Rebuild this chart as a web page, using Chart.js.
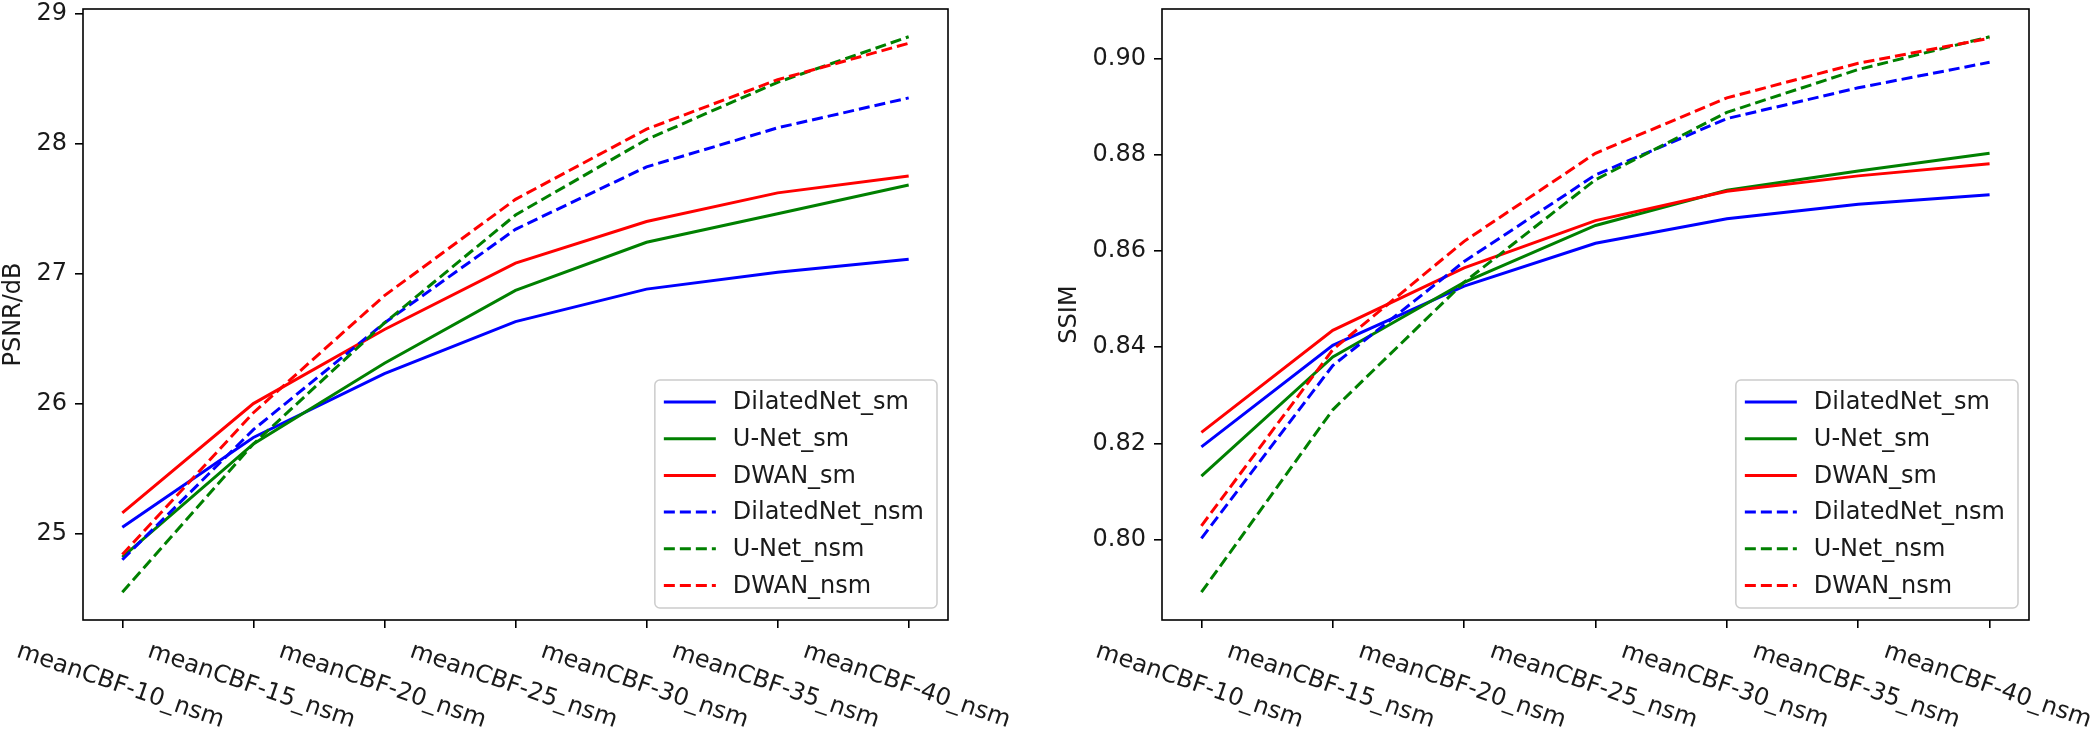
<!DOCTYPE html>
<html>
<head>
<meta charset="utf-8">
<script src="https://cdn.jsdelivr.net/npm/chart.js@4.4.0/dist/chart.umd.min.js"></script>
<style>
  html, body { margin: 0; padding: 0; background: #fff; }
  #wrap { width: 2100px; height: 732px; display: flex; }
  canvas { display: block; }
</style>
</head>
<body>
<div id="wrap">
  <canvas id="psnrChart" width="1050" height="732"></canvas>
  <canvas id="ssimChart" width="1050" height="732"></canvas>
</div>
<script>
// categories on the x axis
var categories = ['meanCBF-10_nsm', 'meanCBF-15_nsm', 'meanCBF-20_nsm', 'meanCBF-25_nsm',
                  'meanCBF-30_nsm', 'meanCBF-35_nsm', 'meanCBF-40_nsm'];

var seriesNames = ['DilatedNet_sm', 'U-Net_sm', 'DWAN_sm', 'DilatedNet_nsm', 'U-Net_nsm', 'DWAN_nsm'];
var seriesColors = ['#0000ff', '#008000', '#ff0000', '#0000ff', '#008000', '#ff0000'];
var seriesDashed = [false, false, false, true, true, true];

// PSNR (dB)
var psnrDilatedSm  = [25.05, 25.74, 26.23, 26.63, 26.88, 27.01, 27.11];
var psnrUnetSm     = [24.82, 25.69, 26.31, 26.87, 27.24, 27.46, 27.68];
var psnrDwanSm     = [25.16, 26.00, 26.57, 27.08, 27.40, 27.62, 27.75];
var psnrDilatedNsm = [24.80, 25.80, 26.62, 27.34, 27.82, 28.12, 28.35];
var psnrUnetNsm    = [24.55, 25.69, 26.62, 27.45, 28.03, 28.47, 28.82];
var psnrDwanNsm    = [24.84, 25.93, 26.83, 27.57, 28.11, 28.49, 28.77];

// SSIM
var ssimDilatedSm  = [0.8193, 0.8404, 0.8527, 0.8616, 0.8667, 0.8697, 0.8717];
var ssimUnetSm     = [0.8132, 0.8380, 0.8535, 0.8653, 0.8726, 0.8766, 0.8803];
var ssimDwanSm     = [0.8223, 0.8435, 0.8565, 0.8663, 0.8724, 0.8756, 0.8781];
var ssimDilatedNsm = [0.8003, 0.8362, 0.8578, 0.8758, 0.8875, 0.8939, 0.8992];
var ssimUnetNsm    = [0.7891, 0.8270, 0.8535, 0.8748, 0.8888, 0.8977, 0.9045];
var ssimDwanNsm    = [0.8029, 0.8395, 0.8620, 0.8803, 0.8918, 0.8990, 0.9042];

var FONT = '"DejaVu Sans", "Liberation Sans", sans-serif';
var TEXT_COLOR = '#1a1a1a';
var DASH = [11, 5];

Chart.defaults.font.family = FONT;
Chart.defaults.color = TEXT_COLOR;

// frame, rotated x labels and legend box drawn like matplotlib
var decorPlugin = {
  id: 'decor',
  afterDraw: function(chart) {
    var ctx = chart.ctx;
    var a = chart.chartArea;
    var xs = chart.scales.x;
    ctx.save();

    ctx.strokeStyle = '#000';
    ctx.lineWidth = 1.6;
    ctx.strokeRect(a.left, a.top, a.right - a.left, a.bottom - a.top);

    ctx.fillStyle = TEXT_COLOR;
    ctx.font = '24px ' + FONT;
    ctx.textAlign = 'center';
    ctx.textBaseline = 'middle';
    categories.forEach(function(label, i) {
      ctx.save();
      ctx.translate(xs.getPixelForValue(i) - 2, a.bottom + 66);
      ctx.rotate(19 * Math.PI / 180);
      ctx.fillText(label, 0, 0);
      ctx.restore();
    });

    // legend
    var textW = 0;
    seriesNames.forEach(function(n) { textW = Math.max(textW, ctx.measureText(n).width); });
    var rowH = 36.7;
    var boxW = 78 + textW + 13;
    var boxH = 228;
    var right = a.right - 11, bottom = a.bottom - 12;
    var left = right - boxW, top = bottom - boxH;
    ctx.beginPath();
    ctx.roundRect(left, top, boxW, boxH, 5);
    ctx.fillStyle = 'rgba(255,255,255,0.85)';
    ctx.fill();
    ctx.strokeStyle = '#cccccc';
    ctx.lineWidth = 1.5;
    ctx.stroke();

    ctx.textAlign = 'left';
    chart.data.datasets.forEach(function(ds, i) {
      var y = top + 22 + i * rowH;
      ctx.beginPath();
      ctx.setLineDash(ds.borderDash || []);
      ctx.strokeStyle = ds.borderColor;
      ctx.lineWidth = 3;
      ctx.moveTo(left + 9, y);
      ctx.lineTo(left + 61, y);
      ctx.stroke();
      ctx.setLineDash([]);
      ctx.fillStyle = TEXT_COLOR;
      ctx.fillText(ds.label, left + 78, y + 1);
    });

    ctx.restore();
  }
};

function makeChart(canvasId, yTitle, series, yStep, yDecimals, yWidth, rightPad, titlePad) {
  var all = [].concat.apply([], series);
  var lo = Math.min.apply(null, all), hi = Math.max.apply(null, all);
  var m = (hi - lo) * 0.05;

  var datasets = series.map(function(values, i) {
    return {
      label: seriesNames[i],
      data: values.map(function(v, j) { return { x: j, y: v }; }),
      borderColor: seriesColors[i],
      borderDash: seriesDashed[i] ? DASH : [],
      borderWidth: 3,
      pointRadius: 0,
      tension: 0,
      fill: false,
      order: -i
    };
  });

  return new Chart(document.getElementById(canvasId), {
    type: 'line',
    data: { datasets: datasets },
    options: {
      responsive: false,
      animation: false,
      devicePixelRatio: 1,
      layout: { padding: { top: 9, right: rightPad, left: 0, bottom: 0 } },
      plugins: { legend: { display: false }, tooltip: { enabled: false } },
      scales: {
        x: {
          type: 'linear',
          min: -0.3,
          max: categories.length - 1 + 0.3,
          border: { display: false },
          grid: { drawOnChartArea: false, drawTicks: true, tickLength: 8, color: '#000', lineWidth: 1.6 },
          ticks: { display: false, stepSize: 1, includeBounds: false },
          afterFit: function(s) {
            s.height = 112;
            s.paddingLeft = 0; s.paddingRight = 0;
          }
        },
        y: {
          min: lo - m,
          max: hi + m,
          border: { display: false },
          grid: { drawOnChartArea: false, drawTicks: true, tickLength: 8, color: '#000', lineWidth: 1.6 },
          ticks: {
            stepSize: yStep,
            includeBounds: false,
            padding: 8,
            color: TEXT_COLOR,
            font: { size: 24, family: FONT },
            callback: function(v) { return v.toFixed(yDecimals); }
          },
          title: {
            display: true,
            text: yTitle,
            color: TEXT_COLOR,
            font: { size: 24, family: FONT, lineHeight: 1 },
            padding: { top: titlePad, bottom: 0 }
          },
          afterFit: function(s) {
            s.width = yWidth;
            s.paddingTop = 0; s.paddingBottom = 0;
          }
        }
      }
    },
    plugins: [decorPlugin]
  });
}

makeChart('psnrChart', 'PSNR/dB',
  [psnrDilatedSm, psnrUnetSm, psnrDwanSm, psnrDilatedNsm, psnrUnetNsm, psnrDwanNsm],
  1, 0, 83, 102, 2);

makeChart('ssimChart', 'SSIM',
  [ssimDilatedSm, ssimUnetSm, ssimDwanSm, ssimDilatedNsm, ssimUnetNsm, ssimDwanNsm],
  0.02, 2, 112, 71, 8);
</script>
</body>
</html>
